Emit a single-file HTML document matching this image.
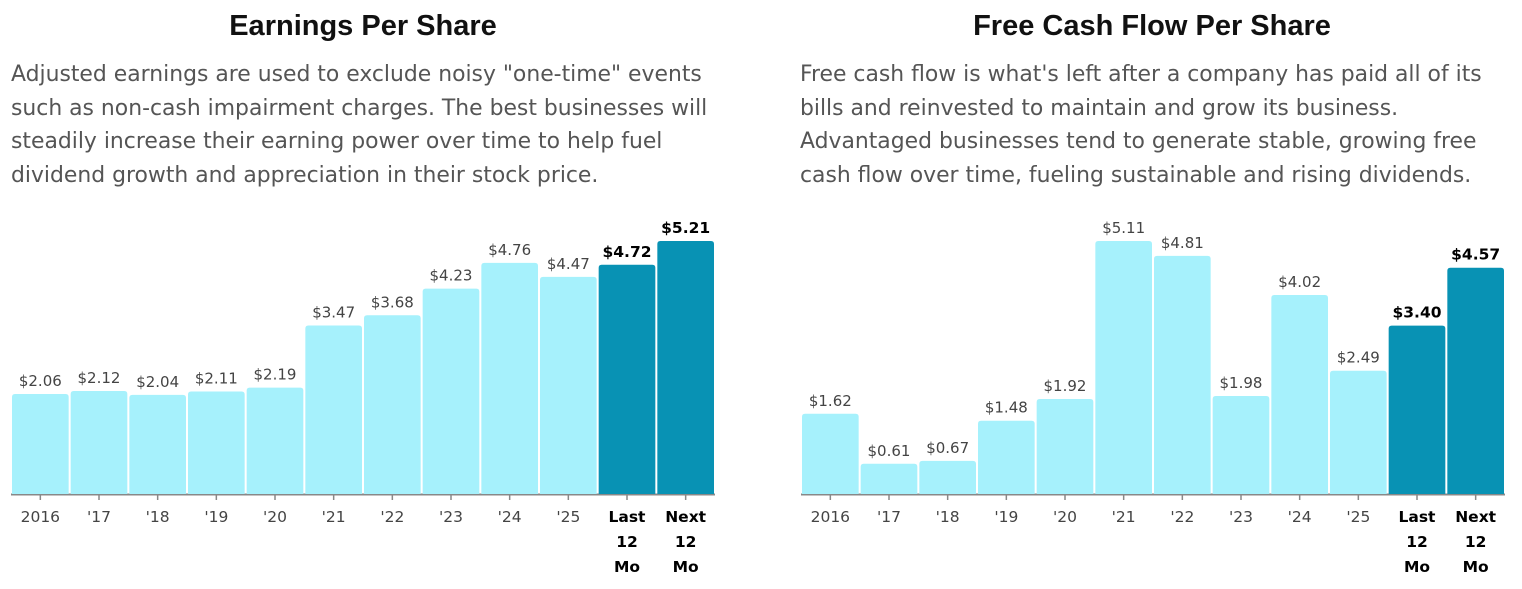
<!DOCTYPE html>
<html><head><meta charset="utf-8">
<style>
body{margin:0;width:1522px;height:589px;background:#fff;font-family:"Liberation Sans",sans-serif;overflow:hidden;position:relative}
.title{position:absolute;top:10px;font-size:29px;font-weight:bold;color:#111;text-align:center}
.desc{position:absolute;top:58px;font-family:"DejaVu Sans",sans-serif;font-size:21.9px;line-height:33.5px;color:#555;white-space:nowrap}
svg{position:absolute;left:0;top:0}
</style></head><body>
<div class="title" style="left:0;width:726px">Earnings Per Share</div>
<div class="desc" style="left:11px">Adjusted earnings are used to exclude noisy "one-time" events<br>such as non-cash impairment charges. The best businesses will<br>steadily increase their earning power over time to help fuel<br>dividend growth and appreciation in their stock price.</div>
<div class="title" style="left:790px;width:724px">Free Cash Flow Per Share</div>
<div class="desc" style="left:800px">Free cash flow is what's left after a company has paid all of its<br>bills and reinvested to maintain and grow its business.<br>Advantaged businesses tend to generate stable, growing free<br>cash flow over time, fueling sustainable and rising dividends.</div>
<svg id="chart" width="1522" height="589"></svg>
<script>
const categories = ["2016","'17","'18","'19","'20","'21","'22","'23","'24","'25","Last 12 Mo","Next 12 Mo"];
const epsValues = [2.06,2.12,2.04,2.11,2.19,3.47,3.68,4.23,4.76,4.47,4.72,5.21];
const fcfValues = [1.62,0.61,0.67,1.48,1.92,5.11,4.81,1.98,4.02,2.49,3.40,4.57];
const NS="http://www.w3.org/2000/svg";
const svg=document.getElementById('chart');
function mk(t,a){const e=document.createElementNS(NS,t);for(const k in a)e.setAttribute(k,a[k]);svg.appendChild(e);return e;}
function draw(vals,x0,x1,name){
  const base=494, maxH=253, maxV=Math.max(...vals);
  const bw=(x1-x0)/vals.length;
  const y=v=>base-v/maxV*maxH;
  const ax=mk('line',{x1:x0,x2:x1,y1:base+0.5,y2:base+0.5,stroke:'#888','stroke-width':2});
  
  
  vals.forEach((v,i)=>{
    const hi=i>=10, bx=x0+i*bw+1, cx=x0+(i+0.5)*bw;
    const r=mk('path',{d:`M${bx},${base} V${y(v)+3} Q${bx},${y(v)} ${bx+3},${y(v)} H${bx+bw-5} Q${bx+bw-2},${y(v)} ${bx+bw-2},${y(v)+3} V${base} Z`,fill:hi?'#0892b4':'#a6f1fc'});
    
    
    const t=mk('text',{x:cx,y:y(v)-8,'text-anchor':'middle','font-family':'DejaVu Sans, sans-serif','font-size':hi?15.5:15,'font-weight':hi?'bold':'normal',fill:hi?'#000':'#444'});
    t.textContent='$'+v.toFixed(2);
    
    
    mk('line',{x1:cx,x2:cx,y1:base,y2:base+6,stroke:'#888','stroke-width':1.5});
    const lines=hi?categories[i].split(' '):[categories[i]];
    lines.forEach((s,j)=>{
      const l=mk('text',{x:cx,y:522+j*25,'text-anchor':'middle','font-family':'DejaVu Sans, sans-serif','font-size':15.5,'font-weight':hi?'bold':'normal',fill:hi?'#000':'#444'});
      l.textContent=s;
      
      
    });
  });
}
draw(epsValues,11,715,'eps');
draw(fcfValues,801,1505,'fcf');
</script>
</body></html>
